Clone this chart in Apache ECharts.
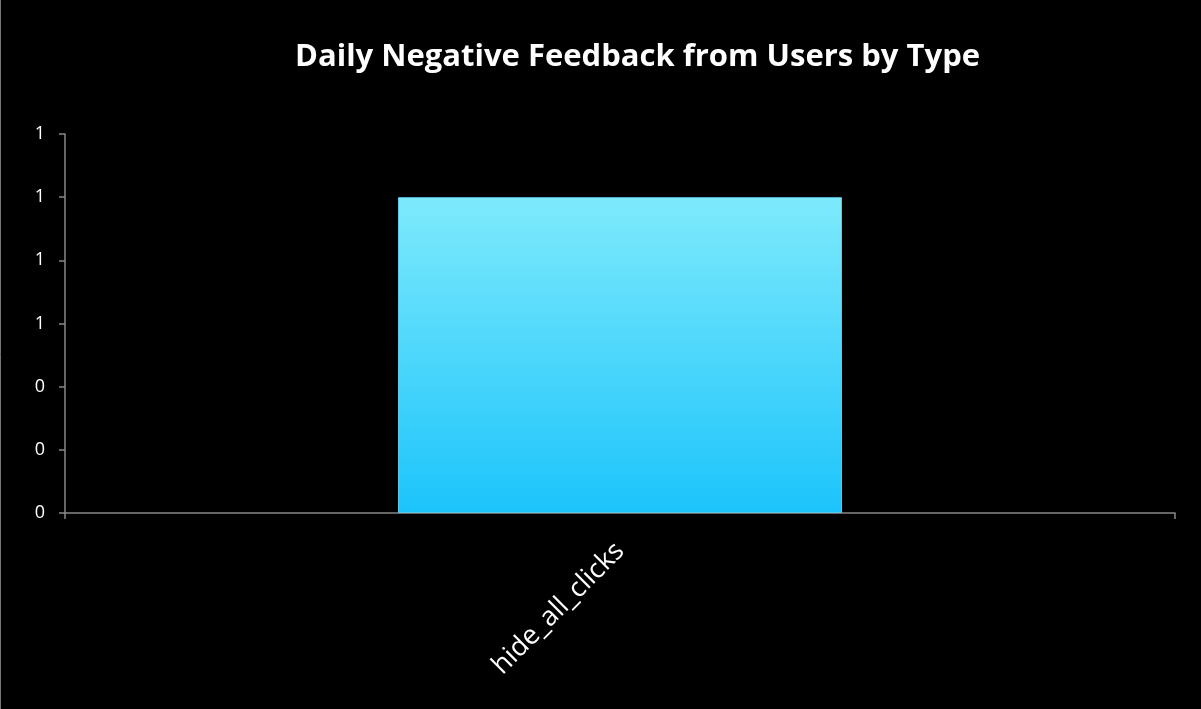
<!DOCTYPE html>
<html>
<head>
<meta charset="utf-8">
<script src="https://cdn.jsdelivr.net/npm/echarts@6/dist/echarts.min.js"></script>
<style>
  html, body { margin: 0; padding: 0; background: #000; }
  #chart { width: 1201px; height: 709px; }
</style>
</head>
<body>
<div id="chart"></div>
<script>
const categories = ['hide_all_clicks'];
const feedbackCounts = [1];

const chart = echarts.init(document.getElementById('chart'));
chart.setOption({
  backgroundColor: '#000',
  animation: false,
  title: {
    text: 'Daily Negative Feedback from Users by Type',
    left: 290,
    top: 37,
    textStyle: {
      color: '#fff',
      fontSize: 31,
      fontWeight: 'bold',
      fontFamily: 'Open Sans'
    }
  },
  graphic: [{
    type: 'line',
    shape: { x1: 0.5, y1: 0, x2: 0.5, y2: 709 },
    style: { stroke: '#777', lineWidth: 1 }
  }],
  grid: { left: 65, right: 26, top: 134, bottom: 196 },
  xAxis: {
    type: 'category',
    data: categories,
    axisLine: { lineStyle: { color: '#888', width: 1.5 } },
    axisTick: { show: true, length: 6, lineStyle: { color: '#888', width: 1.5 } },
    axisLabel: {
      rotate: 45,
      color: '#fff',
      fontSize: 27,
      fontFamily: 'Open Sans',
      margin: 34
    }
  },
  yAxis: {
    type: 'value',
    min: 0,
    max: 1.2,
    interval: 0.2,
    axisLine: { show: true, lineStyle: { color: '#888', width: 1.5 } },
    axisTick: { show: true, length: 6, lineStyle: { color: '#888', width: 1.5 } },
    splitLine: { show: false },
    axisLabel: {
      color: '#fff',
      fontSize: 18,
      fontFamily: 'Open Sans',
      margin: 20,
      formatter: function (v) { return String(Math.round(v)); }
    }
  },
  series: [{
    type: 'bar',
    data: feedbackCounts,
    barWidth: '40%',
    itemStyle: {
      borderColor: '#5cc8e6',
      borderWidth: 1,
      color: {
        type: 'linear', x: 0, y: 0, x2: 0, y2: 1,
        colorStops: [
          { offset: 0, color: '#7eeafc' },
          { offset: 1, color: '#1cc4fb' }
        ]
      }
    }
  }]
});
</script>
</body>
</html>
